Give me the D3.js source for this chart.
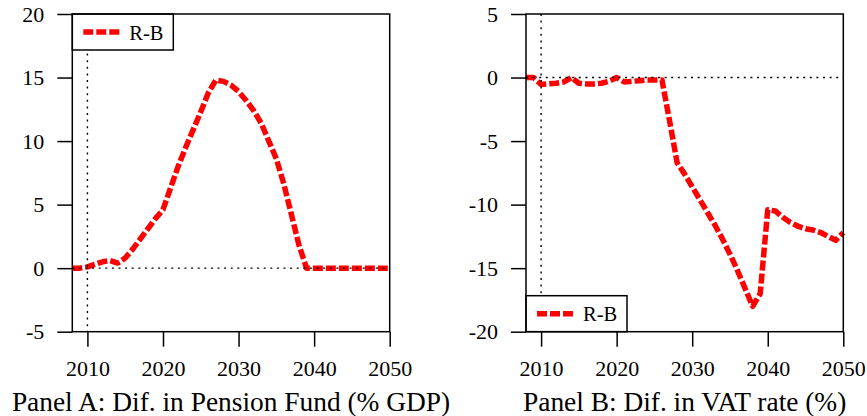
<!DOCTYPE html>
<html>
<head>
<meta charset="utf-8">
<script src="https://cdn.jsdelivr.net/npm/d3@7"></script>
<style>
  body { margin: 0; background: #fff; }
  svg text { font-family: "Liberation Serif", "Times New Roman", serif; fill: #000; }
</style>
</head>
<body>
<div id="chart"></div>
<script>
"use strict";

const years = d3.range(2008, 2051);

// Panel A: difference in pension fund (% GDP)
const pensionFund = [
  0, 0, 0.1, 0.3, 0.5, 0.6, 0.4, 0.8, 1.5, 2.3,
  3.1, 3.9, 4.6, 6.3, 8.0, 9.5, 10.9, 12.3, 13.8, 14.8,
  14.7, 14.4, 13.9, 13.2, 12.4, 11.4, 10.0, 8.6, 6.6, 4.2,
  1.8, 0, 0, 0, 0, 0, 0, 0, 0, 0,
  0, 0, 0,
];

// Panel B: difference in VAT rate (%)
const vatRate = [
  0, 0, -0.55, -0.5, -0.45, -0.35, 0, -0.45, -0.5, -0.5,
  -0.45, -0.3, 0, -0.35, -0.3, -0.25, -0.2, -0.2, -0.2, -3.4,
  -6.7, -7.6, -8.6, -9.6, -10.6, -11.6, -12.7, -13.9, -15.2, -16.6,
  -18.0, -17.0, -10.4, -10.5, -11.0, -11.4, -11.7, -11.9, -12.0, -12.2,
  -12.5, -12.8, -12.2,
];

const xTicks = [2010, 2020, 2030, 2040, 2050];
const yTicksA = [-5, 0, 5, 10, 15, 20];
const yTicksB = [-20, -15, -10, -5, 0, 5];
const seriesName = "R-B";
const titles = [
  "Panel A: Dif. in Pension Fund (% GDP)",
  "Panel B: Dif. in VAT rate (%)",
];

const W = 867;
const H = 416;
const plotTop = 14;
const plotBottom = 331.7;

const svg = d3
  .select("#chart")
  .append("svg")
  .attr("width", W)
  .attr("height", H);

const drawPanel = function (opt) {
  const x = d3.scaleLinear().domain([2008, 2050]).range([opt.left, opt.right]);
  const y = d3.scaleLinear().domain(opt.yDomain).range([plotBottom, plotTop]);
  const g = svg.append("g");

  // data line
  const line = d3
    .line()
    .x((d, i) => x(years[i]))
    .y((d) => y(d));

  g.append("path")
    .datum(opt.values)
    .attr("d", line)
    .attr("fill", "none")
    .attr("stroke", "#ff0000")
    .attr("stroke-width", 5.5)
    .attr("stroke-dasharray", "10,3")
    .attr("stroke-linejoin", "round");

  // dotted reference lines (drawn over the data)
  g.append("line")
    .attr("x1", opt.left)
    .attr("x2", opt.right)
    .attr("y1", y(0))
    .attr("y2", y(0))
    .attr("stroke", "#000")
    .attr("stroke-width", 1.4)
    .attr("stroke-dasharray", "2,4.6");

  g.append("line")
    .attr("x1", x(2010))
    .attr("x2", x(2010))
    .attr("y1", plotTop)
    .attr("y2", plotBottom)
    .attr("stroke", "#000")
    .attr("stroke-width", 1.4)
    .attr("stroke-dasharray", "2,4.6");

  // legend
  const lg = g.append("g").attr("transform", `translate(${opt.left},${opt.legendY})`);
  lg.append("rect")
    .attr("x", 0)
    .attr("y", 0)
    .attr("width", 101)
    .attr("height", 36)
    .attr("fill", "#fff")
    .attr("stroke", "#000")
    .attr("stroke-width", 1.5);
  lg.append("line")
    .attr("x1", 11)
    .attr("x2", 48)
    .attr("y1", 18)
    .attr("y2", 18)
    .attr("stroke", "#ff0000")
    .attr("stroke-width", 5.5)
    .attr("stroke-dasharray", "10,3");
  lg.append("text")
    .attr("x", 57)
    .attr("y", 25.5)
    .attr("font-size", "20.5px")
    .text(seriesName);

  // frame
  g.append("rect")
    .attr("x", opt.left)
    .attr("y", plotTop)
    .attr("width", opt.right - opt.left)
    .attr("height", plotBottom - plotTop)
    .attr("fill", "none")
    .attr("stroke", "#000")
    .attr("stroke-width", 1.5);

  // axes
  const yAxis = d3
    .axisLeft(y)
    .tickValues(opt.yTicks)
    .tickFormat((d) => String(d))
    .tickSize(15)
    .tickPadding(13);
  const ya = g.append("g").attr("transform", `translate(${opt.left},0)`).call(yAxis);

  const xAxis = d3
    .axisBottom(x)
    .tickValues(xTicks)
    .tickFormat((d) => String(d))
    .tickSize(15)
    .tickPadding(14);
  const xa = g.append("g").attr("transform", `translate(0,${plotBottom})`).call(xAxis);

  [ya, xa].forEach((a) => {
    a.select(".domain").remove();
    a.selectAll(".tick line").attr("stroke", "#000").attr("stroke-width", 1.5);
    a.selectAll(".tick text").attr("font-size", "22px");
  });

  g.append("text")
    .attr("x", (opt.left + opt.right) / 2)
    .attr("y", 411)
    .attr("text-anchor", "middle")
    .attr("font-size", "27.4px")
    .text(opt.title);
};

drawPanel({
  left: 72.3,
  right: 389.7,
  yDomain: [-5, 20],
  yTicks: yTicksA,
  values: pensionFund,
  legendY: plotTop,
  title: titles[0],
});

drawPanel({
  left: 526,
  right: 843.3,
  yDomain: [-20, 5],
  yTicks: yTicksB,
  values: vatRate,
  legendY: plotBottom - 36,
  title: titles[1],
});
</script>
</body>
</html>
